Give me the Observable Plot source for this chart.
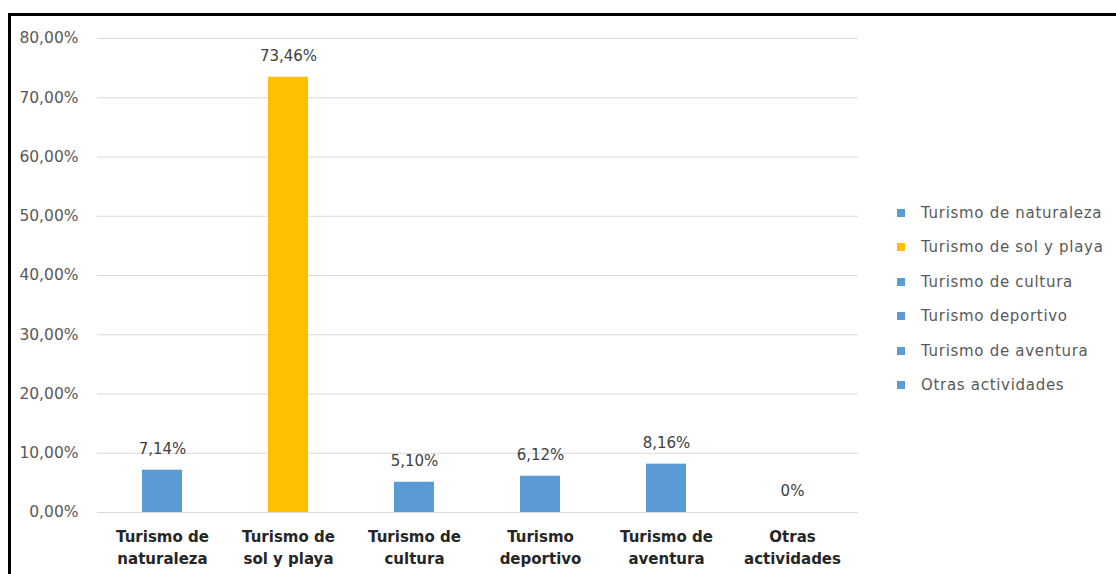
<!DOCTYPE html>
<html>
<head>
<meta charset="utf-8">
<script src="https://cdn.jsdelivr.net/npm/d3@7"></script>
<script src="https://cdn.jsdelivr.net/npm/@observablehq/plot@0.6"></script>
<style>
  html, body { margin:0; padding:0; background:#fff; overflow:hidden; width:1116px; height:574px; }
  #wrap { position:relative; width:1116px; height:574px; }
  #frame { position:absolute; left:8px; top:13px; width:1200px; height:700px; border:3px solid #000; box-sizing:border-box; pointer-events:none; }
  #chart { position:absolute; left:0; top:0; }
  #legend { position:absolute; left:0; top:0; font-family:"DejaVu Sans", sans-serif; font-size:15px; color:#595959; letter-spacing:0.7px; }
  .row { position:absolute; white-space:nowrap; display:flex; align-items:center; height:20px; }
  .sw { width:8px; height:8px; margin-right:16px; }
</style>
</head>
<body>
<div id="wrap">
  <div id="chart"></div>
  <div id="legend"></div>
  <div id="frame"></div>
</div>
<script>
const categories = ["Turismo de naturaleza", "Turismo de sol y playa", "Turismo de cultura", "Turismo deportivo", "Turismo de aventura", "Otras actividades"];
const axisLabels = ["Turismo de\nnaturaleza", "Turismo de\nsol y playa", "Turismo de\ncultura", "Turismo\ndeportivo", "Turismo de\naventura", "Otras\nactividades"];
const values = [7.14, 73.46, 5.10, 6.12, 8.16, 0];
const barColors = ["#5B9BD5", "#FFC000", "#5B9BD5", "#5B9BD5", "#5B9BD5", "#5B9BD5"];
const yTicks = [0, 10, 20, 30, 40, 50, 60, 70, 80];

const fmtLabel = v => v === 0 ? "0%" : v.toFixed(2).replace(".", ",") + "%";
const data = categories.map((c, i) => ({cat: c, value: values[i], label: fmtLabel(values[i])}));

const plot = Plot.plot({
  width: 1116,
  height: 574,
  marginLeft: 97,
  marginRight: 258,
  marginTop: 38,
  marginBottom: 62,
  style: {fontFamily: "DejaVu Sans, sans-serif", fontSize: "15px", background: "transparent", overflow: "visible"},
  x: {domain: categories, paddingInner: 0.68, paddingOuter: 0.34, label: null},
  y: {domain: [0, 80], label: null},
  color: {domain: categories, range: barColors},
  marks: [
    Plot.ruleY(yTicks, {stroke: "#d9d9d9", strokeWidth: 1}),
    Plot.barY(data, {x: "cat", y: "value", fill: "cat"}),
    Plot.text(data, {x: "cat", y: "value", text: "label", dy: -21, fill: "#404040", fontSize: 15, letterSpacing: 0.5}),
    Plot.axisY(yTicks, {tickSize: 0, tickPadding: 19, label: null, tickFormat: d => d.toFixed(2).replace(".", ",") + "%", color: "#595959", fontSize: 15.5, letterSpacing: 0.3}),
    Plot.axisX({tickSize: 0, tickPadding: 14, label: null, tickFormat: d => axisLabels[categories.indexOf(d)], fontWeight: "bold", color: "#262626", fontSize: 15, lineHeight: 1.47})
  ]
});
document.getElementById("chart").appendChild(plot);

const legend = document.getElementById("legend");
categories.forEach((c, i) => {
  const row = document.createElement("div");
  row.className = "row";
  row.style.left = "897px";
  row.style.top = (213 + i * 34.4 - 10) + "px";
  const sw = document.createElement("div");
  sw.className = "sw";
  sw.style.background = barColors[i];
  const t = document.createElement("span");
  t.textContent = c;
  row.appendChild(sw);
  row.appendChild(t);
  legend.appendChild(row);
});
</script>
</body>
</html>
